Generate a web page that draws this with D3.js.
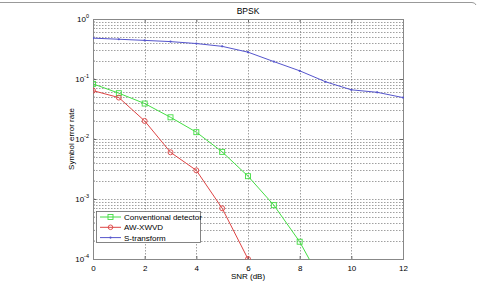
<!DOCTYPE html>
<html><head><meta charset="utf-8">
<script src="https://cdn.jsdelivr.net/npm/d3@7"></script>
<style>body{margin:0;background:#fff}svg{display:block;font-family:"Liberation Sans",Arial,sans-serif}</style>
</head><body><svg id="c" width="477" height="284"></svg>
<script>
const snr = [0,1,2,3,4,5,6,7,8,9,10,11,12];
const conventional = [0.083,0.058,0.039,0.023,0.013,0.0061,0.0024,0.00079,0.000194,0.000032];
const awxwvd = [0.064,0.049,0.020,0.0060,0.0030,0.00070,0.0001];
const stransform = [0.48,0.46,0.44,0.42,0.39,0.35,0.28,0.195,0.137,0.090,0.066,0.060,0.049];
const xTicks = [0,2,4,6,8,10,12];
const yTicks = [1e-4,1e-3,1e-2,1e-1,1];
const seriesNames = ["Conventional detector","AW-XWVD","S-transform"];
const colors = ["#44dd44","#dd4444","#5555cc"];

const svg = d3.select("#c");
const L=93,R=403,T=19,B=259;
const x = d3.scaleLinear().domain([0,12]).range([L,R]);
const y = d3.scaleLog().domain([1e-4,1]).range([B,T]);

// frame line at top
svg.append("path").attr("d","M0,2.5H472Q475,2.5 476,5").attr("fill","none").attr("stroke","#999").attr("stroke-width",1);

// grid
const minor=[];
for(let e=-4;e<0;e++) for(let k=1;k<=9;k++) minor.push(k*Math.pow(10,e));
minor.push(1);
const g = svg.append("g");
g.selectAll("line.hy").data(minor.filter(v=>v>1e-4&&v<1)).join("line")
 .attr("x1",L).attr("x2",R).attr("y1",d=>Math.round(y(d))+0.5).attr("y2",d=>Math.round(y(d))+0.5)
 .attr("stroke","#777").attr("stroke-width",0.7).attr("stroke-dasharray","1.5,1.5");
g.selectAll("line.vx").data(xTicks.slice(1,-1)).join("line")
 .attr("y1",T).attr("y2",B).attr("x1",d=>Math.round(x(d))+0.5).attr("x2",d=>Math.round(x(d))+0.5)
 .attr("stroke","#777").attr("stroke-width",0.7).attr("stroke-dasharray","1.5,1.5");

// axes
const ax = d3.axisBottom(x).tickValues(xTicks).tickSize(-3).tickPadding(6).tickFormat(d3.format("d"));
const gx = svg.append("g").attr("transform",`translate(0,${B})`).call(ax);
gx.select(".domain").remove();
gx.selectAll("line").attr("stroke","#666");
gx.selectAll("text").attr("font-size",8).attr("fill","#000");
svg.append("g").attr("transform",`translate(0,${T})`).call(d3.axisTop(x).tickValues(xTicks).tickSize(-3).tickFormat(""))
 .call(s=>{s.select(".domain").remove();s.selectAll("line").attr("stroke","#666");});

const ay = d3.axisLeft(y).tickValues(yTicks).tickSize(-3).tickFormat("");
const gy = svg.append("g").attr("transform",`translate(${L},0)`).call(ay);
gy.select(".domain").remove(); gy.selectAll("line").attr("stroke","#666");
svg.append("g").attr("transform",`translate(${R},0)`).call(d3.axisRight(y).tickValues(yTicks).tickSize(-3).tickFormat(""))
 .call(s=>{s.select(".domain").remove();s.selectAll("line").attr("stroke","#666");});
// minor y ticks
svg.append("g").selectAll("line").data(minor.filter(v=>v>1e-4&&v<1)).join("line")
 .attr("x1",L).attr("x2",L+2).attr("y1",d=>y(d)).attr("y2",d=>y(d)).attr("stroke","#666").attr("stroke-width",0.6);

// y tick labels with superscripts
const yl = svg.append("g").selectAll("text").data(yTicks).join("text")
 .attr("x",L-4).attr("y",d=>y(d)+3).attr("text-anchor","end").attr("font-size",8).attr("fill","#000");
yl.append("tspan").text("10");
yl.append("tspan").attr("dy",-4).attr("font-size",5.5).text(d=>Math.round(Math.log10(d)));

svg.append("rect").attr("x",L+0.5).attr("y",T+0.5).attr("width",R-L).attr("height",B-T)
 .attr("fill","none").attr("stroke","#888").attr("stroke-width",1);

// data
const clip = svg.append("clipPath").attr("id","pc").append("rect").attr("x",L).attr("y",T-5).attr("width",R-L+5).attr("height",B-T+5.5);
const allData=[conventional,awxwvd,stransform];
const line = d3.line().x((d,i)=>x(snr[i])).y(d=>y(d));
const dg = svg.append("g").attr("clip-path","url(#pc)");
allData.forEach((arr,si)=>{
  dg.append("path").datum(arr).attr("d",line).attr("fill","none").attr("stroke",colors[si]).attr("stroke-width",1);
  const pts = arr.map((v,i)=>[snr[i],v]).filter(p=>p[1]>=1e-4);
  if(si===0){
    dg.selectAll(null).data(pts).join("rect").attr("x",d=>x(d[0])-2.5).attr("y",d=>y(d[1])-2.5)
      .attr("width",5).attr("height",5).attr("fill","none").attr("stroke",colors[0]).attr("stroke-width",0.9);
  } else if(si===1){
    dg.selectAll(null).data(pts).join("circle").attr("cx",d=>x(d[0])).attr("cy",d=>y(d[1])).attr("r",2.5)
      .attr("fill","none").attr("stroke",colors[1]).attr("stroke-width",0.9);
  } else {
    dg.selectAll(null).data(pts).join("circle").attr("cx",d=>x(d[0])).attr("cy",d=>y(d[1])).attr("r",1.1)
      .attr("fill",colors[2]);
  }
});

// title and labels
svg.append("text").attr("x",(L+R)/2).attr("y",14).attr("text-anchor","middle").attr("font-size",8.5).text("BPSK");
svg.append("text").attr("x",(L+R)/2).attr("y",B+20).attr("text-anchor","middle").attr("font-size",8).text("SNR (dB)");
svg.append("text").attr("transform",`translate(74,${(T+B)/2}) rotate(-90)`).attr("text-anchor","middle").attr("font-size",8).text("Symbol error rate");

// legend
const lg = svg.append("g");
lg.append("rect").attr("x",96.5).attr("y",211.5).attr("width",104).attr("height",31).attr("fill","#fff").attr("stroke","#666").attr("stroke-width",0.8);
seriesNames.forEach((n,i)=>{
  const yy = 217+i*10.3;
  lg.append("line").attr("x1",100).attr("x2",121).attr("y1",yy).attr("y2",yy).attr("stroke",colors[i]).attr("stroke-width",1);
  if(i===0) lg.append("rect").attr("x",108).attr("y",yy-2.5).attr("width",5).attr("height",5).attr("fill","none").attr("stroke",colors[0]).attr("stroke-width",0.9);
  else if(i===1) lg.append("circle").attr("cx",110.5).attr("cy",yy).attr("r",2.3).attr("fill","none").attr("stroke",colors[1]).attr("stroke-width",0.9);
  else lg.append("circle").attr("cx",110.5).attr("cy",yy).attr("r",1.1).attr("fill",colors[2]);
  lg.append("text").attr("x",124).attr("y",yy+3).attr("font-size",8).text(n);
});
</script></body></html>
